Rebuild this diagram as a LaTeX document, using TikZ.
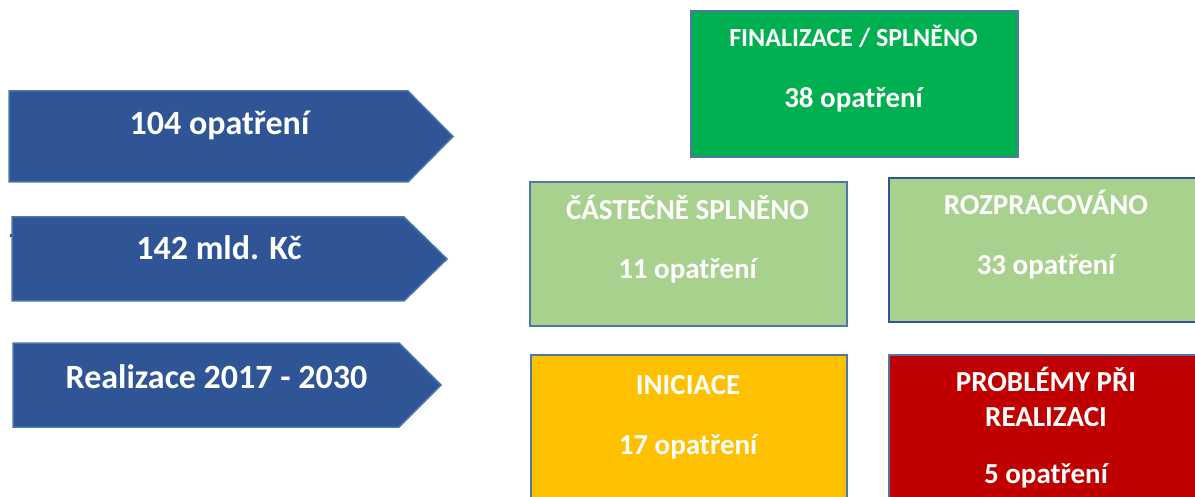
\documentclass[tikz,border=0pt]{standalone}
\usepackage{fontspec}
\setmainfont{Carlito}
\definecolor{arrowblue}{HTML}{2F5597}
\definecolor{arrowedge}{HTML}{4A76A8}
\definecolor{boxedge}{HTML}{4F78A8}
\definecolor{boxedgedark}{HTML}{2F5597}
\definecolor{finfill}{HTML}{00B050}
\definecolor{lightgreen}{HTML}{A9D18E}
\definecolor{yellowfill}{HTML}{FFC000}
\definecolor{redfill}{HTML}{C00000}
\begin{document}
\begin{tikzpicture}[x=1pt,y=-1pt,
  arrowbody/.style={fill=arrowblue, draw=arrowedge, line width=1.5pt, line join=miter},
  box/.style={draw=boxedge, line width=2pt, anchor=north west, inner sep=0pt},
  bigtxt/.style={text=white, font=\bfseries\fontsize{34}{40}\selectfont, anchor=base, inner sep=0pt},
  headtxt/.style={text=white, font=\bfseries\fontsize{29}{34}\selectfont, anchor=base, inner sep=0pt},
  smallhead/.style={text=white, font=\bfseries\fontsize{26}{30}\selectfont, anchor=base, inner sep=0pt},
]
\useasboundingbox (0,0) rectangle (1195,497);
\clip (0,0) rectangle (1195,497);

% arrows
\draw[arrowbody] (9,91) -- (408,91) -- (453,136.5) -- (408,182) -- (9,182) -- cycle;
\draw[arrowbody] (12,217) -- (404,217) -- (447,259) -- (404,301) -- (12,301) -- cycle;
\draw[arrowbody] (13,343) -- (399,343) -- (441,385) -- (399,427) -- (13,427) -- cycle;
\fill[black!70] (10,234) rectangle (11.5,237);

\node[bigtxt] (t1) at (219.5,135) {104 opatření};
\node[bigtxt] (t2) at (219,260) {142 mld. Kč};
\node[bigtxt] (t3) at (216.5,388) {Realizace 2017 - 2030};

% boxes
\node[box, fill=finfill, minimum width=327pt, minimum height=146pt] (fin) at (690,10) {};
\node[box, fill=lightgreen, minimum width=317pt, minimum height=144pt] (cast) at (529,181) {};
\node[box, draw=boxedgedark, fill=lightgreen, minimum width=316pt, minimum height=144pt] (rozp) at (888,177) {};
\node[box, fill=yellowfill, minimum width=316pt, minimum height=150pt] (inic) at (530,354) {};
\node[box, fill=redfill, minimum width=316pt, minimum height=150pt] (prob) at (888,354) {};

\node[smallhead] (finh) at (853.5,47) {FINALIZACE / SPLNĚNO};
\node[headtxt] (finn) at (853.5,108) {38 opatření};
\node[headtxt] (casth) at (687.5,220) {ČÁSTEČNĚ SPLNĚNO};
\node[headtxt] (castn) at (687.5,279) {11 opatření};
\node[headtxt] (rozph) at (1046,215) {ROZPRACOVÁNO};
\node[headtxt] (rozpn) at (1046,275) {33 opatření};
\node[headtxt] (inich) at (688,394) {INICIACE};
\node[headtxt] (inicn) at (688,454) {17 opatření};
\node[headtxt] (probh) at (1046,391) {PROBLÉMY PŘI};
\node[headtxt] (probh2) at (1046,426) {REALIZACI};
\node[headtxt] (probn) at (1046,483) {5 opatření};
\end{tikzpicture}
\end{document}
